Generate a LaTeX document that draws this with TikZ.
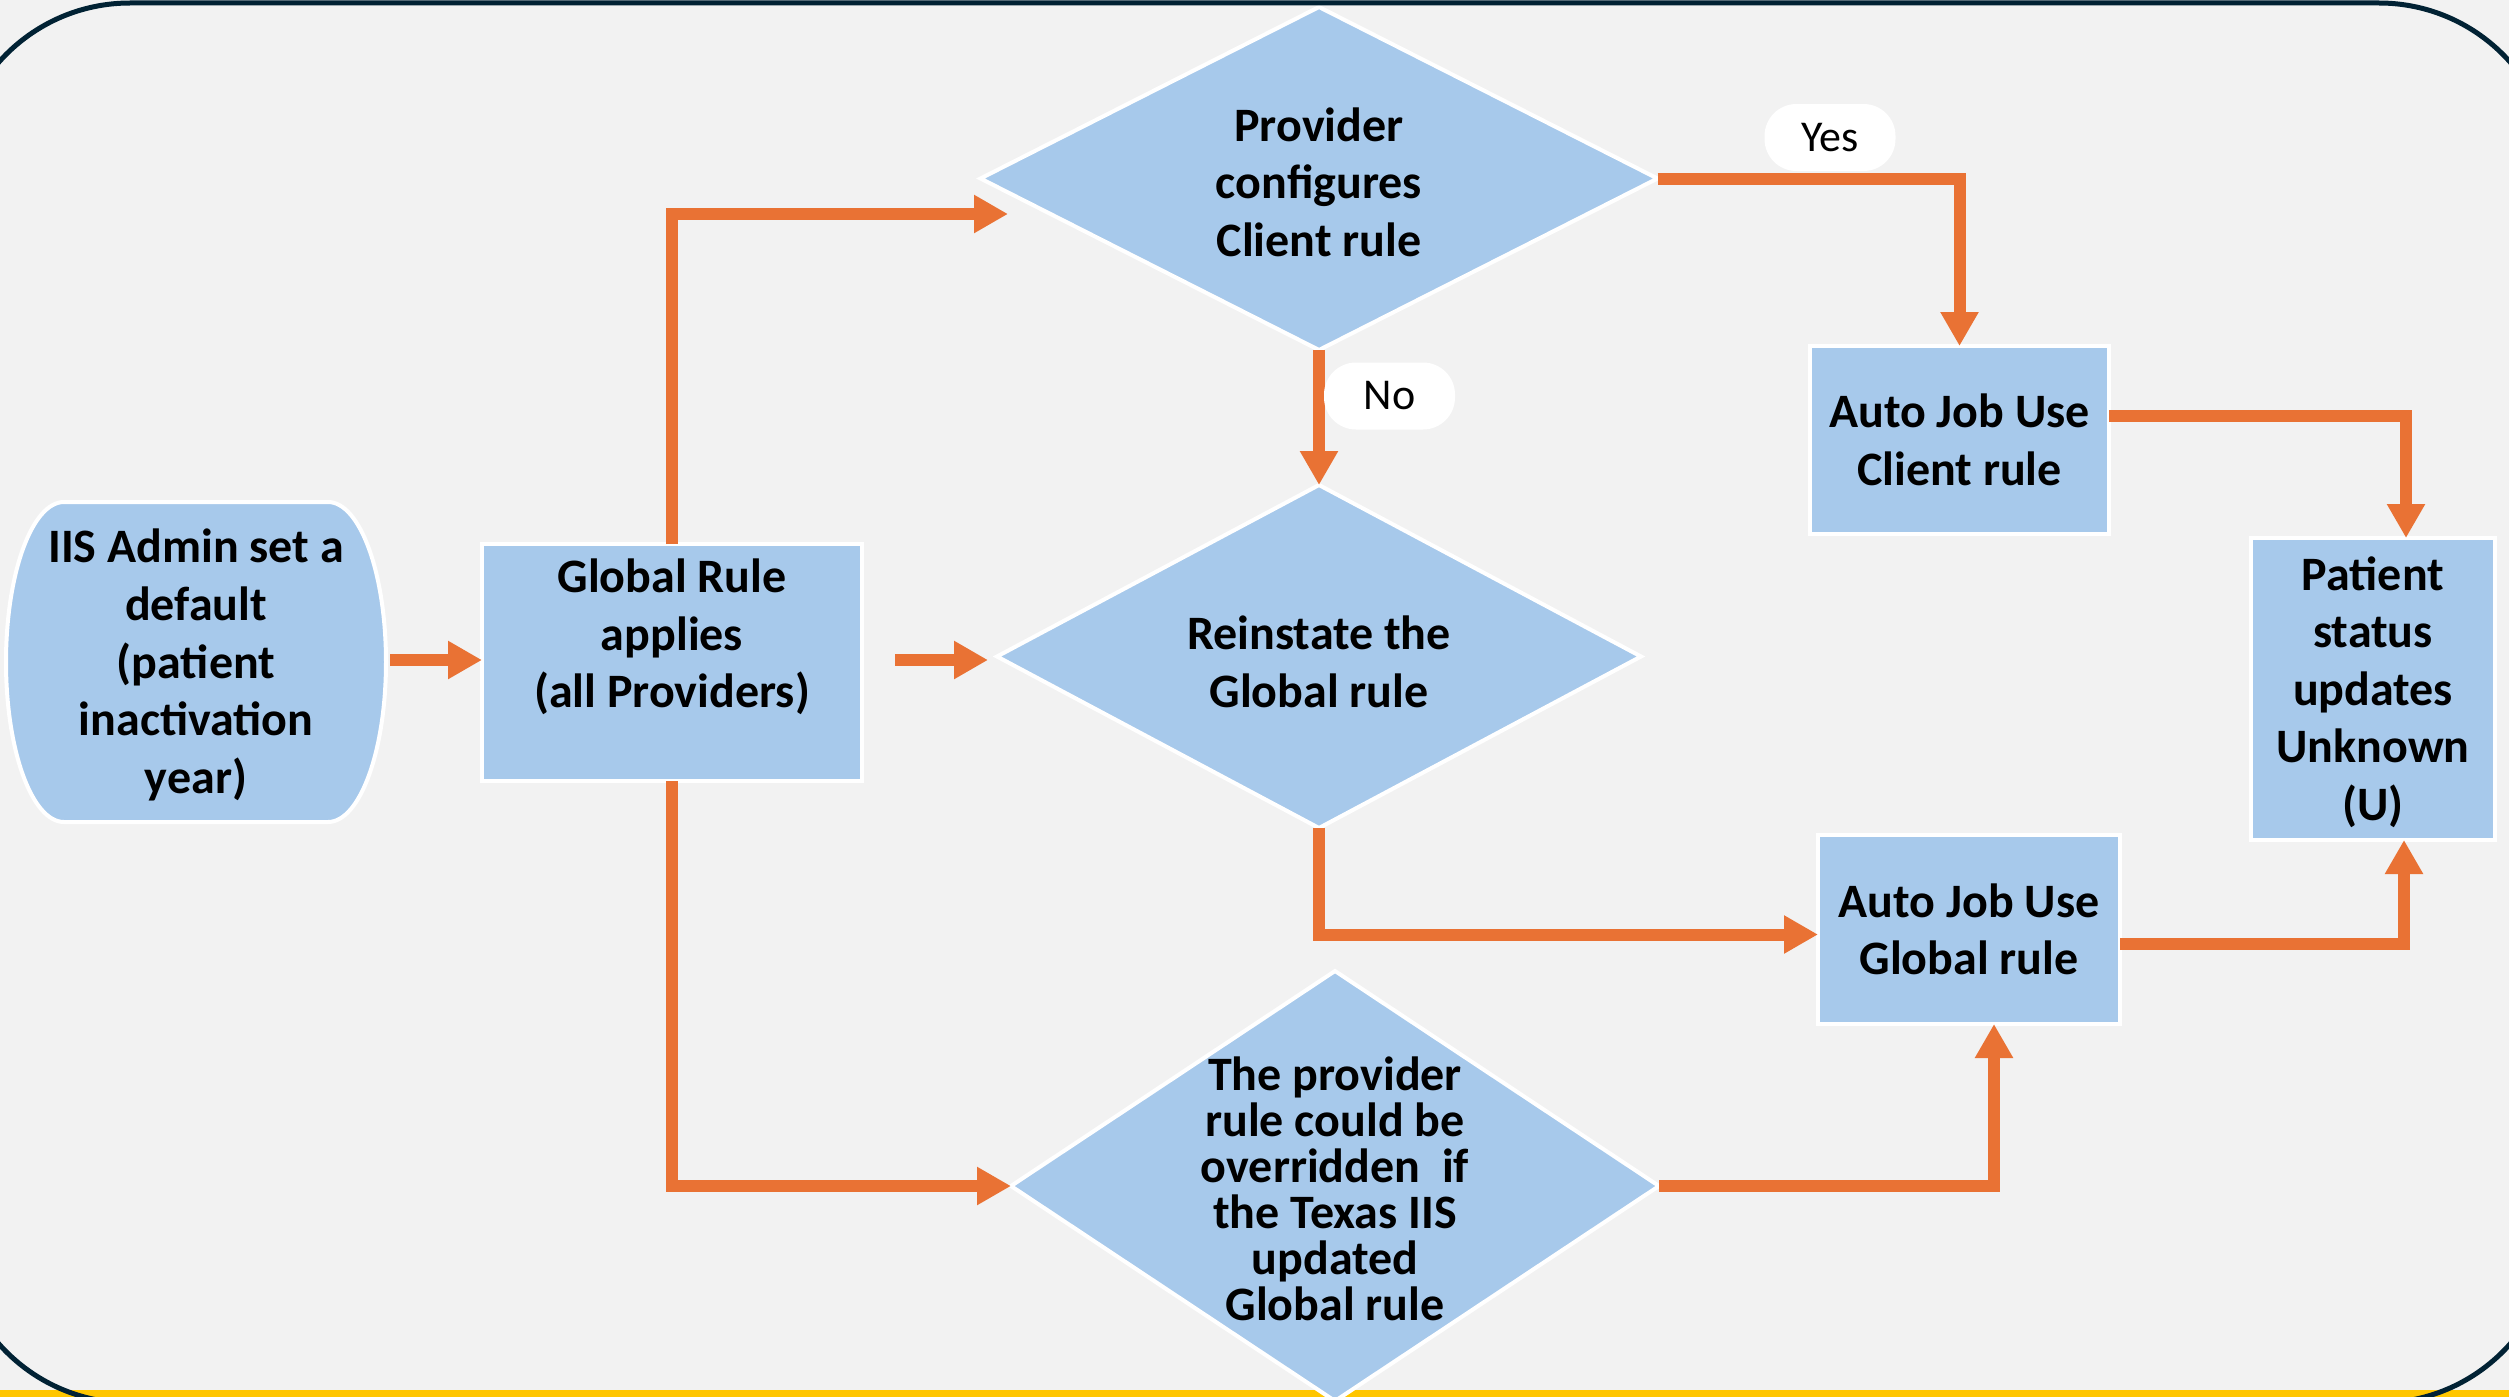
\documentclass[tikz,border=0pt]{standalone}
\usepackage{fontspec}
\setmainfont{Carlito}
\usetikzlibrary{shapes.geometric,arrows.meta}
\definecolor{bgc}{HTML}{F2F2F2}
\definecolor{blu}{HTML}{A7C9EB}
\definecolor{org}{HTML}{E97234}
\definecolor{navy}{HTML}{012234}
\definecolor{ylw}{HTML}{FFC600}
\begin{document}
\begin{tikzpicture}[x=1pt,y=1pt,
  every node/.style={inner sep=0pt, outer sep=0pt},
  box/.style={rectangle, fill=blu, draw=white, line width=4pt},
  dia/.style={diamond, fill=blu, draw=white, line width=4pt},
  txt/.style={align=center, font=\fontsize{48}{57.6}\selectfont\bfseries},
  txtb/.style={align=center, font=\fontsize{48}{46}\selectfont\bfseries},
  pill/.style={fill=white, rounded corners=32pt, minimum width=131pt, minimum height=67pt, font=\fontsize{44}{52}\selectfont},
  arr/.style={draw=org, line width=12pt, -{Triangle[length=34pt,width=36pt]}}
]
\useasboundingbox (0,0) rectangle (2509,-1397);
\fill[bgc] (0,0) rectangle (2509,-1397);
\fill[ylw] (0,-1390) rectangle (2509,-1397);

% IIS admin shape
\fill[blu, draw=white, line width=4pt] (64,-502) -- (328,-502)
  arc[start angle=90, end angle=-90, x radius=58, y radius=160] -- (64,-822)
  arc[start angle=270, end angle=90, x radius=58, y radius=160] -- cycle;
\node[txt, minimum width=380pt, minimum height=320pt] (iis) at (196,-665)
  {IIS Admin set a\\default\\(patient\\inactivation\\year)};

% Global rule box
\node[box, minimum width=380pt, minimum height=237pt] (glob) at (672,-662.5) {};
\node[txt] (globt) at (672,-637) {Global Rule\\applies\\(all Providers)};

% diamonds
\node[dia, minimum width=677pt, minimum height=343pt] (d1) at (1319,-178.5) {};
\node[txt] (d1t) at (1319,-182) {Provider\\configures\\Client rule};
\node[dia, minimum width=644pt, minimum height=343pt] (d2) at (1319,-656.5) {};
\node[txt] (d2t) at (1319,-662) {Reinstate the\\Global rule};
\node[dia, minimum width=648pt, minimum height=430pt] (d3) at (1335,-1186) {};
\node[txtb] (d3t) at (1335,-1189) {The provider\\rule could be\\overridden\ \ if\\the Texas IIS\\updated\\Global rule};

% right boxes
\node[box, txt, minimum width=299pt, minimum height=188pt] (ajc) at (1959.5,-440) {Auto Job Use\\Client rule};
\node[box, txt, minimum width=302pt, minimum height=189pt] (ajg) at (1969,-929.5) {Auto Job Use\\Global rule};
\node[box, minimum width=244pt, minimum height=302pt] (pat) at (2373,-689) {};
\node[txt] (patt) at (2373,-692) {Patient\\status\\updates\\Unknown\\(U)};

% connectors
\coordinate (a2e) at (1008,-214);
\draw[arr] ([xshift=4pt,yshift=5pt]iis.east) -- ([yshift=2.5pt]glob.west);
\draw[arr] (glob.north) |- (a2e);
\draw[arr] ([xshift=33pt,yshift=2.5pt]glob.east) -- ([xshift=-9pt,yshift=-3.5pt]d2.west);
\draw[arr] (glob.south) |- (d3.west);
\draw[arr] (d1.east) -| (ajc.north);
\draw[arr] (d1.south) -- (d2.north);
\draw[arr] ([yshift=24pt]ajc.east) -| ([xshift=33pt]pat.north);
\draw[arr] (d2.south) |- ([yshift=-5pt]ajg.west);
\draw[arr] (d3.east) -| ([xshift=25pt]ajg.south);
\draw[arr] ([yshift=-14pt]ajg.east) -| ([xshift=31pt]pat.south);

% labels
\node[pill] (yes) at (1830,-137.5) {Yes};
\node[pill] (no) at (1389.5,-396) {No};

% frame
\draw[navy, line width=5pt, rounded corners=175pt] (-45,-3) rectangle (2554,-1403);
\end{tikzpicture}
\end{document}
